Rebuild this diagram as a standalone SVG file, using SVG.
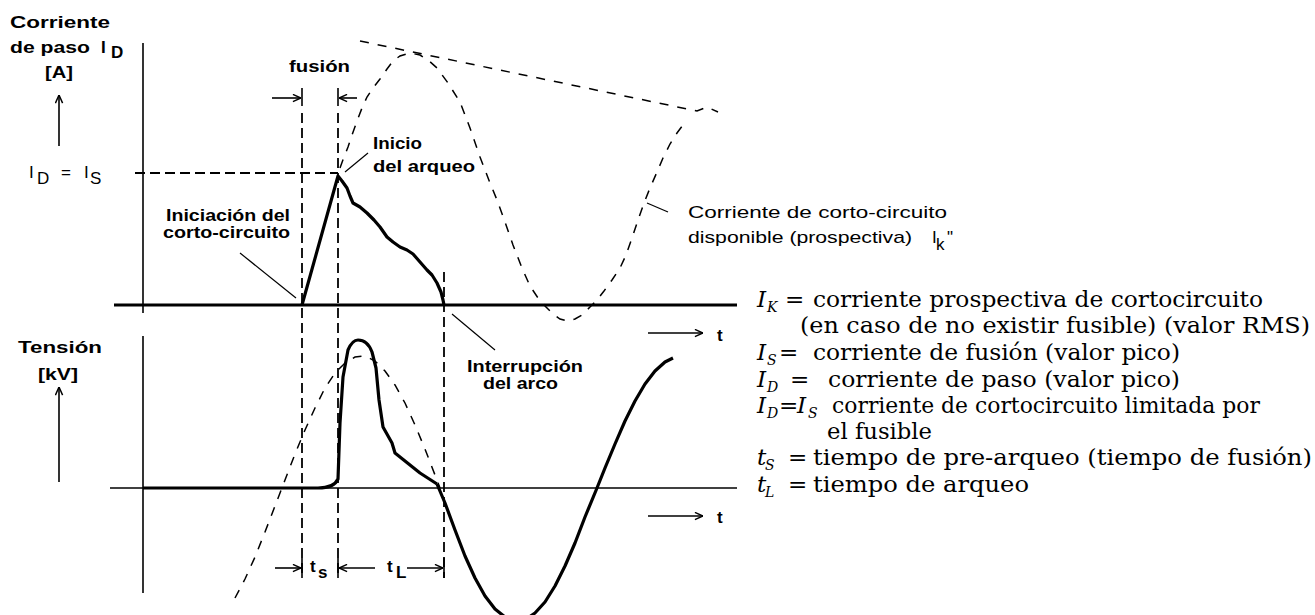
<svg xmlns="http://www.w3.org/2000/svg" width="1315" height="615" viewBox="0 0 1315 615">
<style>
.b{font-family:"Liberation Sans",Arial,sans-serif;font-weight:bold;font-size:17px;fill:#000}
.n{font-family:"Liberation Sans",Arial,sans-serif;font-size:17px;fill:#000}
.s{font-family:"DejaVu Serif",serif;font-size:23px;fill:#000}
.si{font-family:"DejaVu Serif",serif;font-style:italic;font-size:23px;fill:#000}
.sub{font-family:"DejaVu Serif",serif;font-style:italic;font-size:14px;fill:#000}
.ax{stroke:#000;stroke-width:1.6;fill:none}
.thick{stroke:#000;stroke-width:3.2;fill:none;stroke-linejoin:round}
.dv{stroke:#000;stroke-width:1.8;fill:none;stroke-dasharray:10 5}
.dc{stroke:#000;stroke-width:1.5;fill:none;stroke-dasharray:9 9}
.lead{stroke:#000;stroke-width:1.2;fill:none}
.arr{stroke:#000;stroke-width:1.6;fill:none;marker-end:url(#ah)}
</style>
<defs>
<marker id="ah" viewBox="0 0 10 10" refX="10" refY="5" markerWidth="9" markerHeight="9" markerUnits="userSpaceOnUse" orient="auto">
<path d="M1,1 L10,5 L1,9" fill="none" stroke="#000" stroke-width="1.6"/>
</marker>
</defs>
<rect width="1315" height="615" fill="#fff"/>

<g id="axes">
<line class="ax" x1="143" y1="43" x2="143" y2="313"/>
<line class="thick" x1="114" y1="305" x2="737" y2="305"/>
<line class="ax" x1="143" y1="336" x2="143" y2="593"/>
<line class="ax" x1="110" y1="488" x2="737" y2="488" stroke-width="2"/>
</g>

<g id="connectors">
<line class="arr" x1="59" y1="146" x2="59" y2="95"/>
<line class="arr" x1="59" y1="482" x2="59" y2="387"/>
<line class="arr" x1="272" y1="98" x2="301" y2="98"/>
<line class="arr" x1="357" y1="98" x2="339" y2="98"/>
<line class="ax" x1="302" y1="88" x2="302" y2="106"/>
<line class="ax" x1="338" y1="88" x2="338" y2="106"/>
<line class="arr" x1="648" y1="333" x2="703" y2="333"/>
<line class="arr" x1="648" y1="516" x2="703" y2="516"/>
<line class="arr" x1="275" y1="568" x2="301" y2="568"/>
<line class="arr" x1="375" y1="568" x2="339" y2="568"/>
<line class="arr" x1="407" y1="568" x2="443" y2="568"/>
<line class="ax" x1="302" y1="558" x2="302" y2="578"/>
<line class="ax" x1="338" y1="558" x2="338" y2="578"/>
<line class="ax" x1="444" y1="558" x2="444" y2="578"/>
<line class="dv" x1="302" y1="113" x2="302" y2="578"/>
<line class="dv" x1="338" y1="113" x2="338" y2="578"/>
<line class="dv" x1="444" y1="272" x2="444" y2="578"/>
<line class="dv" x1="135" y1="173" x2="338" y2="173" stroke-dasharray="15 8"/>
<line class="lead" x1="345" y1="172" x2="368" y2="153"/>
<line class="lead" x1="240" y1="253" x2="296" y2="298"/>
<line class="lead" x1="452" y1="314" x2="495" y2="350"/>
<line class="lead" x1="647" y1="203" x2="668" y2="212"/>
</g>

<g id="current">
<path class="thick" d="M302,305 L338,176 L342,181 L347,188 L350,196 L353,203 L360,207 L367,213 L374,220 L380,227 L387,237 L393,242 L400,247 L407,250 L413,254 L420,262 L427,270 L432,275 L437,283 L441,292 L443,300 L444,305"/>
</g>

<g id="prospective-current">
<polyline class="dc" points="340,168 344,157 348,147 352,135 357,121 362,108 367,97 373,88 380,79 387,69 393,61 400,56 410,53 420,55 428,60 437,68 448,83 460,102 470,128 480,157 490,183 497,200 505,222 513,245 522,268 530,286 538,298 545,306 553,314 560,319 567,321 575,319 582,315 590,307 597,300 604,291 612,280 620,268 626,255 632,238 638,220 644,203 650,188 657,172 663,158 670,144 677,133 683,125"/>
<path class="dc" stroke-dasharray="12 11" d="M360,41 L697,111 L707,107 L718,112"/>
</g>

<g id="voltage">
<path class="thick" d="M143,488 L318,488 C328,488 335,486 338,479 L340,423 L343,377 L348,350 C351,343 354,340 358,340 C364,340 369,344 372,352 L376,368 L379,400 L383,427 L392,443 L395,453 L420,473 L437,484"/>
<polyline class="thick" points="437,484 445,503 455,530 465,556 475,578 485,596 495,609 505,617 515,621 525,620 535,613 545,602 555,586 565,566 575,543 585,517 597,488 605,468 615,444 625,421 635,401 645,384 655,371 665,362 673,358"/>
<polyline class="dc" points="235,598 245,579 255,557 265,532 275,506 285,480 295,454 305,430 315,408 325,388 335,373 345,363 355,357 365,356 375,361 385,371 395,385 405,403 415,425 425,449 435,475 440,488"/>
</g>

<g id="labels-left">
<text class="b" x="10" y="28" font-size="18" textLength="100" lengthAdjust="spacingAndGlyphs">Corriente</text>
<text class="b" x="10" y="53" font-size="18" textLength="80" lengthAdjust="spacingAndGlyphs">de paso</text>
<text class="b" x="101" y="53" font-size="18">I</text>
<text class="b" x="111" y="58" font-size="14">D</text>
<text class="b" x="45" y="78" font-size="18" textLength="28" lengthAdjust="spacingAndGlyphs">[A]</text>
<text class="n" x="29" y="178" font-size="19">I</text>
<text class="n" x="37" y="184" font-size="15">D</text>
<text class="n" x="61" y="178" font-size="19">=</text>
<text class="n" x="84" y="178" font-size="19">I</text>
<text class="n" x="90" y="184" font-size="15">S</text>
<text class="b" x="18" y="353" font-size="18" textLength="84" lengthAdjust="spacingAndGlyphs">Tensión</text>
<text class="b" x="38" y="380" font-size="18" textLength="40" lengthAdjust="spacingAndGlyphs">[kV]</text>
</g>

<g id="label-fusion">
<text class="b" x="289" y="72" textLength="61" lengthAdjust="spacingAndGlyphs">fusión</text>
</g>
<g id="label-inicio-arqueo">
<text class="b" x="373" y="149" textLength="49" lengthAdjust="spacingAndGlyphs">Inicio</text>
<text class="b" x="373" y="172" textLength="102" lengthAdjust="spacingAndGlyphs">del arqueo</text>
</g>
<g id="label-iniciacion">
<text class="b" x="166" y="221" textLength="124" lengthAdjust="spacingAndGlyphs">Iniciación del</text>
<text class="b" x="163" y="238" textLength="127" lengthAdjust="spacingAndGlyphs">corto-circuito</text>
</g>
<g id="label-interrupcion">
<text class="b" x="467" y="372" textLength="116" lengthAdjust="spacingAndGlyphs">Interrupción</text>
<text class="b" x="483" y="389" textLength="75" lengthAdjust="spacingAndGlyphs">del arco</text>
</g>
<g id="label-prospectiva">
<text class="n" x="688" y="218" textLength="259" lengthAdjust="spacingAndGlyphs">Corriente de corto-circuito</text>
<text class="n" x="688" y="243" textLength="224" lengthAdjust="spacingAndGlyphs">disponible (prospectiva)</text>
<text class="n" x="932" y="243">I</text>
<text class="n" x="936" y="250" font-size="14">k</text>
<text class="n" x="947" y="243">"</text>
</g>
<g id="time-labels">
<text class="b" x="717" y="341">t</text>
<text class="b" x="717" y="523">t</text>
<text class="b" x="310" y="572" font-size="18">t</text>
<text class="b" x="318" y="578" font-size="13">s</text>
<text class="b" x="387" y="572" font-size="18">t</text>
<text class="b" x="396" y="578" font-size="12">L</text>
</g>

<g id="legend">
<g id="leg1">
<text class="si" x="757" y="307">I</text><text class="sub" x="767" y="312">K</text><text class="s" x="785" y="307">=</text>
<text class="s" x="813" y="307" textLength="450" lengthAdjust="spacingAndGlyphs">corriente prospectiva de cortocircuito</text>
</g>
<g id="leg2">
<text class="s" x="800" y="333" textLength="510" lengthAdjust="spacingAndGlyphs">(en caso de no existir fusible) (valor RMS)</text>
</g>
<g id="leg3">
<text class="si" x="757" y="360">I</text><text class="sub" x="767" y="365">S</text><text class="s" x="779" y="360">=</text>
<text class="s" x="813" y="360" textLength="367" lengthAdjust="spacingAndGlyphs">corriente de fusión (valor pico)</text>
</g>
<g id="leg4">
<text class="si" x="757" y="387">I</text><text class="sub" x="767" y="392">D</text><text class="s" x="790" y="387">=</text>
<text class="s" x="828" y="387" textLength="352" lengthAdjust="spacingAndGlyphs">corriente de paso (valor pico)</text>
</g>
<g id="leg5">
<text class="si" x="757" y="413">I</text><text class="sub" x="767" y="418">D</text><text class="s" x="779" y="413" font-size="17">=</text><text class="si" x="797" y="413">I</text><text class="sub" x="808" y="418">S</text>
<text class="s" x="832" y="413" textLength="428" lengthAdjust="spacingAndGlyphs">corriente de cortocircuito limitada por</text>
</g>
<g id="leg6">
<text class="s" x="827" y="439" textLength="105" lengthAdjust="spacingAndGlyphs">el fusible</text>
</g>
<g id="leg7">
<text class="si" x="757" y="465">t</text><text class="sub" x="765" y="470">S</text><text class="s" x="788" y="465">=</text>
<text class="s" x="813" y="465" textLength="499" lengthAdjust="spacingAndGlyphs">tiempo de pre-arqueo (tiempo de fusión)</text>
</g>
<g id="leg8">
<text class="si" x="757" y="492">t</text><text class="sub" x="765" y="497">L</text><text class="s" x="788" y="492">=</text>
<text class="s" x="813" y="492" textLength="216" lengthAdjust="spacingAndGlyphs">tiempo de arqueo</text>
</g>
</g>
</svg>
